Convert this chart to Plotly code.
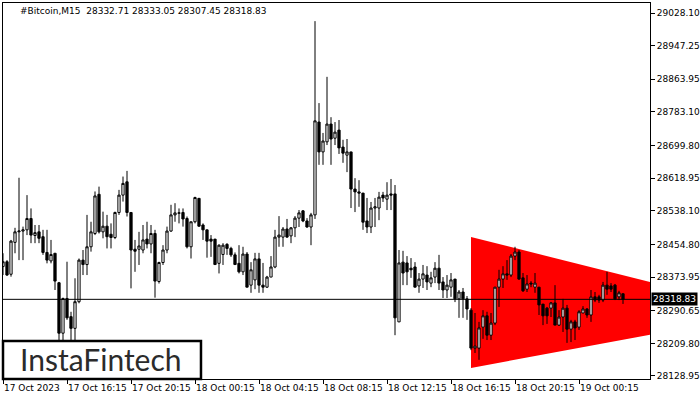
import pandas as pd
import plotly.graph_objects as go

# 15-minute bars, first bar 17 Oct 2023 12:15
start_time = "2023-10-17 12:15"

opens = [
    28400, 28412, 28381, 28460, 28486, 28488, 28491, 28519, 28477, 28486,
    28474, 28435, 28414, 28433, 28360, 28235, 28321, 28276, 28247, 28313,
    28416, 28405, 28449, 28482, 28579, 28486, 28500, 28480, 28472, 28534,
    28577, 28610, 28534, 28443, 28443, 28441, 28468, 28456, 28482, 28363,
    28410, 28441, 28488, 28528, 28532, 28534, 28519, 28449, 28511, 28569,
    28503, 28491, 28468, 28468, 28408, 28430, 28455, 28445, 28429, 28408,
    28387, 28431, 28354, 28367, 28419, 28354, 28349, 28374, 28399, 28473,
    28473, 28493, 28476, 28496, 28520, 28538, 28513, 28498, 28528, 28758,
    28684, 28709, 28753, 28718, 28738, 28696, 28676, 28684, 28592, 28585,
    28582, 28513, 28498, 28545, 28545, 28577, 28567, 28580, 28580, 28263,
    28411, 28409, 28396, 28399, 28352, 28369, 28379, 28359, 28374, 28396,
    28362, 28342, 28349, 28369, 28320, 28337, 28320, 28292, 28198, 28198,
    28250, 28278, 28230, 28260, 28349, 28369, 28382, 28379, 28426, 28436,
    28372, 28344, 28359, 28349, 28349, 28307, 28297, 28297, 28310, 28255,
    28275, 28297, 28245, 28263, 28250, 28285, 28295, 28280, 28325, 28325,
    28317, 28354, 28352, 28354, 28325, 28332.71,
]
highs = [
    28433, 28416, 28466, 28496, 28620, 28499, 28577, 28544, 28503, 28503,
    28491, 28491, 28466, 28433, 28362, 28323, 28412, 28288, 28371, 28420,
    28441, 28528, 28511, 28586, 28598, 28536, 28528, 28507, 28536, 28590,
    28623, 28637, 28534, 28466, 28486, 28503, 28511, 28503, 28491, 28412,
    28453, 28499, 28553, 28557, 28544, 28544, 28524, 28511, 28573, 28569,
    28507, 28491, 28478, 28468, 28455, 28458, 28458, 28449, 28435, 28453,
    28449, 28436, 28411, 28434, 28434, 28409, 28377, 28426, 28491, 28525,
    28498, 28518, 28498, 28525, 28540, 28540, 28520, 28533, 29008, 28805,
    28731, 28870, 28770, 28758, 28763, 28714, 28716, 28684, 28619, 28614,
    28582, 28570, 28560, 28570, 28585, 28585, 28609, 28617, 28602, 28441,
    28439, 28426, 28421, 28411, 28384, 28404, 28401, 28387, 28411, 28429,
    28374, 28379, 28384, 28369, 28342, 28347, 28327, 28297, 28285, 28263,
    28292, 28288, 28285, 28349, 28392, 28401, 28416, 28431, 28449, 28441,
    28384, 28379, 28364, 28384, 28349, 28307, 28300, 28312, 28354, 28292,
    28320, 28305, 28268, 28268, 28292, 28302, 28297, 28342, 28337, 28330,
    28362, 28387, 28359, 28357, 28340, 28333.05,
]
lows = [
    28379, 28377, 28375, 28433, 28416, 28416, 28478, 28458, 28458, 28458,
    28429, 28408, 28408, 28342, 28195, 28200, 28268, 28205, 28210, 28309,
    28379, 28379, 28437, 28478, 28482, 28470, 28445, 28445, 28468, 28528,
    28561, 28524, 28346, 28387, 28404, 28433, 28445, 28433, 28323, 28358,
    28404, 28433, 28486, 28511, 28507, 28499, 28445, 28420, 28507, 28499,
    28466, 28422, 28424, 28405, 28383, 28404, 28429, 28424, 28405, 28383,
    28379, 28349, 28335, 28344, 28335, 28335, 28347, 28374, 28396, 28449,
    28449, 28471, 28458, 28473, 28498, 28510, 28496, 28453, 28518, 28652,
    28652, 28701, 28652, 28701, 28679, 28657, 28634, 28545, 28535, 28548,
    28491, 28483, 28483, 28498, 28515, 28560, 28540, 28540, 28230, 28263,
    28354, 28354, 28372, 28349, 28335, 28347, 28342, 28349, 28359, 28342,
    28322, 28322, 28325, 28312, 28273, 28273, 28268, 28193, 28186, 28169,
    28221, 28218, 28218, 28255, 28300, 28347, 28367, 28374, 28416, 28367,
    28337, 28337, 28349, 28335, 28280, 28255, 28258, 28275, 28255, 28253,
    28238, 28211, 28213, 28218, 28243, 28285, 28273, 28263, 28312, 28310,
    28312, 28330, 28337, 28317, 28317, 28307.45,
]
closes = [
    28412, 28379, 28463, 28486, 28488, 28491, 28519, 28478, 28484, 28470,
    28435, 28416, 28430, 28364, 28235, 28321, 28273, 28247, 28313, 28416,
    28405, 28449, 28486, 28575, 28486, 28500, 28474, 28472, 28534, 28577,
    28606, 28534, 28441, 28438, 28451, 28466, 28456, 28482, 28364, 28410,
    28441, 28488, 28528, 28533, 28533, 28518, 28449, 28511, 28571, 28500,
    28491, 28463, 28463, 28405, 28453, 28453, 28445, 28429, 28405, 28387,
    28431, 28349, 28392, 28419, 28354, 28349, 28374, 28399, 28473, 28478,
    28493, 28473, 28496, 28520, 28533, 28513, 28498, 28528, 28761, 28684,
    28711, 28753, 28716, 28733, 28694, 28681, 28684, 28592, 28585, 28582,
    28510, 28498, 28545, 28548, 28572, 28570, 28577, 28577, 28273, 28409,
    28384, 28387, 28392, 28349, 28369, 28382, 28362, 28372, 28396, 28359,
    28342, 28354, 28367, 28320, 28337, 28320, 28295, 28198, 28203, 28248,
    28278, 28230, 28260, 28349, 28369, 28382, 28379, 28426, 28436, 28369,
    28340, 28357, 28357, 28359, 28305, 28278, 28278, 28310, 28255, 28275,
    28297, 28245, 28263, 28248, 28288, 28295, 28280, 28325, 28317, 28317,
    28354, 28344, 28344, 28320, 28335, 28318.83,
]

x_labels = [
    "17 Oct 2023", "17 Oct 16:15", "17 Oct 20:15", "18 Oct 00:15", "18 Oct 04:15",
    "18 Oct 08:15", "18 Oct 12:15", "18 Oct 16:15", "18 Oct 20:15", "19 Oct 00:15",
]
price_ticks = [
    28128.95, 28209.80, 28290.65, 28373.95, 28454.80, 28538.10,
    28618.95, 28699.80, 28783.10, 28863.95, 28947.25, 29028.10,
]

# symmetrical triangle pattern
tri_start = "2023-10-18_17:30"
tri_apex = "2023-10-19_12:15"
tri_upper = 28473
tri_lower = 28149
tri_apex_price = 28287

last_price = 28318.83
title = "#Bitcoin,M15  28332.71 28333.05 28307.45 28318.83"

times = pd.date_range(start_time, periods=len(opens), freq="15min")
bar = pd.Timedelta(minutes=15)
x_range = [times[0], times[0] + bar * 161.75]

font = dict(family="DejaVu Sans", size=9, color="black")

fig = go.Figure()
fig.add_trace(go.Candlestick(
    x=times, open=opens, high=highs, low=lows, close=closes,
    increasing=dict(line=dict(color="black", width=1), fillcolor="white"),
    decreasing=dict(line=dict(color="black", width=1), fillcolor="black"),
    whiskerwidth=0, showlegend=False,
))

# triangle under the candles
fig.add_shape(
    type="path", xref="x", yref="y", layer="below",
    path=(f"M {tri_start},{tri_upper} L {tri_apex},{tri_apex_price} "
          f"L {tri_start},{tri_lower} Z"),
    fillcolor="#ff0000", line=dict(color="#ff0000", width=0),
)
fig.add_shape(type="line", xref="paper", x0=0, x1=1, yref="y",
              y0=last_price, y1=last_price, line=dict(color="black", width=1))

# logo box
fig.add_shape(type="rect", xref="paper", yref="paper", x0=0.0, x1=0.306, y0=0.0, y1=0.101,
              fillcolor="white", line=dict(color="black", width=2.5), layer="above")
fig.add_annotation(xref="paper", yref="paper", x=0.152, y=0.053, text="InstaFintech",
                   showarrow=False, xanchor="center", yanchor="middle",
                   font=dict(family="Lato", size=30, color="#2b2b2b"))

fig.add_annotation(xref="paper", yref="paper", x=0.023, y=0.979, text=title,
                   showarrow=False, xanchor="left", yanchor="middle", font=font)
fig.add_annotation(xref="paper", yref="y", x=1, y=last_price, text=f"{last_price:.2f}",
                   showarrow=False, xanchor="left", yanchor="middle", xshift=1,
                   bgcolor="black", borderpad=1,
                   font=dict(family="DejaVu Sans", size=9, color="white"))

fig.update_layout(
    width=700, height=400,
    margin=dict(l=3, r=50, t=3, b=21, autoexpand=False),
    paper_bgcolor="white", plot_bgcolor="white",
    font=font,
    showlegend=False,
    boxgap=0.2,
    xaxis=dict(
        type="date", range=x_range, rangeslider=dict(visible=False),
        tickvals=times[::16], ticktext=x_labels, ticklabelposition="outside right",
        tickangle=0, automargin=False,
        ticks="outside", ticklen=4, tickcolor="black",
        showgrid=False, zeroline=False, showline=True, mirror=True,
        linecolor="black", linewidth=1,
    ),
    yaxis=dict(
        side="right", range=[28121.5, 29052.9], automargin=False,
        tickvals=price_ticks, tickformat=".2f",
        ticks="outside", ticklen=4, tickcolor="black",
        showgrid=False, zeroline=False, showline=True, mirror=True,
        linecolor="black", linewidth=1,
    ),
)

# the page body has a default 8px margin; remove it so the figure sits at 0,0
fig.write_html(
    "out.html",
    config={"displayModeBar": False},
    post_script="document.body.style.margin = '0';",
)
